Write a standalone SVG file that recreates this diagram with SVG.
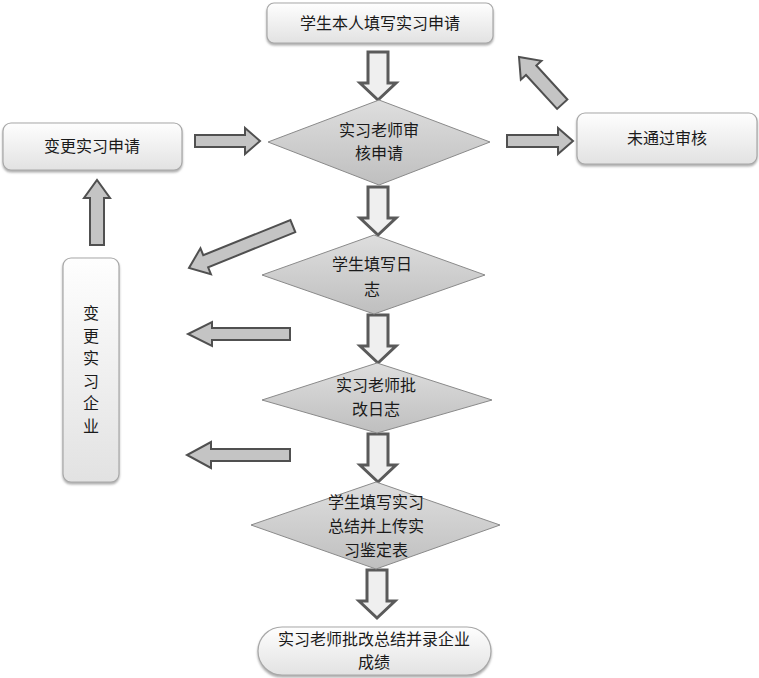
<svg xmlns="http://www.w3.org/2000/svg" width="759" height="678" viewBox="0 0 759 678">
<style>
.box{fill:url(#gBox);stroke:#a8a8a8;stroke-width:1.2;filter:url(#sh)}
.dia{fill:url(#gDia);stroke:#8a8a8a;stroke-width:1}
.t{font-family:"Noto Sans CJK SC","Liberation Sans",sans-serif;font-size:16px;fill:#1a1a1a;text-anchor:middle}
.dn{fill:#efefef;stroke:#5a5a5a;stroke-width:3;stroke-linejoin:miter}
.ga{fill:#c4c4c4;stroke:#505050;stroke-width:2;stroke-linejoin:miter}
</style>
<defs>
<linearGradient id="gBox" x1="0" y1="0" x2="0" y2="1"><stop offset="0" stop-color="#fefefe"/><stop offset="1" stop-color="#e2e2e2"/></linearGradient>
<linearGradient id="gDia" x1="0" y1="0" x2="0" y2="1"><stop offset="0" stop-color="#dedede"/><stop offset="1" stop-color="#bfbfbf"/></linearGradient>
<filter id="sh" x="-10%" y="-10%" width="120%" height="130%"><feDropShadow dx="0" dy="2" stdDeviation="1.2" flood-color="#777" flood-opacity="0.6"/></filter>
<path id="down" d="M-10,-48 L10,-48 L10,-17 L18,-17 L0,0 L-18,-17 L-10,-17 Z"/>
</defs>
<g id="connectors">
<use href="#down" class="dn" x="378" y="100"/>
<use href="#down" class="dn" x="378" y="235"/>
<use href="#down" class="dn" x="378" y="363"/>
<use href="#down" class="dn" x="378" y="482"/>
<use href="#down" class="dn" x="377" y="618"/>
<path class="ga" transform="translate(260,141)" d="M-65,-6 L-15,-6 L-15,-13 L0,0 L-15,13 L-15,6 L-65,6 Z"/>
<path class="ga" transform="translate(573,141)" d="M-66,-6 L-15,-6 L-15,-13 L0,0 L-15,13 L-15,6 L-66,6 Z"/>
<path class="ga" transform="translate(519,57) rotate(-132.5)" d="M-64,-7 L-18,-7 L-18,-14 L0,0 L-18,14 L-18,7 L-64,7 Z"/>
<path class="ga" transform="translate(189,268) rotate(158)" d="M-112,-6.5 L-18,-6.5 L-18,-14 L0,0 L-18,14 L-18,6.5 L-112,6.5 Z"/>
<path class="ga" transform="translate(188,334) rotate(180)" d="M-102,-6 L-24,-6 L-24,-12 L0,0 L-24,12 L-24,6 L-102,6 Z"/>
<path class="ga" transform="translate(187,455) rotate(180)" d="M-103,-6 L-24,-6 L-24,-13 L0,0 L-24,13 L-24,6 L-103,6 Z"/>
<path class="ga" transform="translate(97,180) rotate(-90)" d="M-65,-7 L-18,-7 L-18,-13 L0,0 L-18,13 L-18,7 L-65,7 Z"/>
</g>
<g id="n1"><rect class="box" x="267" y="3" width="226" height="40" rx="7"/><text class="t" x="380" y="29">学生本人填写实习申请</text></g>
<g id="n2"><path class="dia" d="M379,100 L490,142 L379,185 L268,142 Z"/><text class="t" x="379" y="136">实习老师审</text><text class="t" x="379" y="159">核申请</text></g>
<g id="n3"><rect class="box" x="3" y="123" width="179" height="47" rx="8"/><text class="t" x="92" y="152">变更实习申请</text></g>
<g id="n4"><rect class="box" x="577" y="113" width="180" height="51" rx="8"/><text class="t" x="667" y="144">未通过审核</text></g>
<g id="n5"><path class="dia" d="M374,235 L485,275 L374,314 L262,275 Z"/><text class="t" x="372" y="270">学生填写日</text><text class="t" x="372" y="295">志</text></g>
<g id="n6"><rect class="box" x="63" y="258" width="56" height="224" rx="8"/><text class="t" x="91" y="319"><tspan x="91">变</tspan><tspan x="91" dy="23">更</tspan><tspan x="91" dy="22">实</tspan><tspan x="91" dy="23">习</tspan><tspan x="91" dy="22">企</tspan><tspan x="91" dy="23">业</tspan></text></g>
<g id="n7"><path class="dia" d="M377,363 L492,400 L377,433 L262,400 Z"/><text class="t" x="376" y="391">实习老师批</text><text class="t" x="376" y="415">改日志</text></g>
<g id="n8"><path class="dia" d="M376,482 L500,525 L376,569 L251,525 Z"/><text class="t" x="376" y="508">学生填写实习</text><text class="t" x="376" y="532">总结并上传实</text><text class="t" x="376" y="556">习鉴定表</text></g>
<g id="n9"><rect class="box" x="258" y="627" width="233" height="48" rx="24"/><text class="t" x="374" y="645">实习老师批改总结并录企业</text><text class="t" x="374" y="668">成绩</text></g>
</svg>
